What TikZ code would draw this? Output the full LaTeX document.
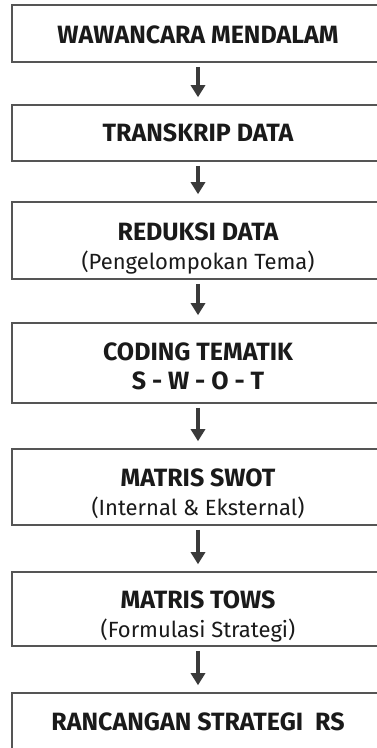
\documentclass[tikz,border=0pt]{standalone}
\usepackage{fontspec}
\setmainfont{Fira Sans}
\usetikzlibrary{arrows.meta}
\definecolor{frame}{HTML}{555555}
\definecolor{arrowgray}{HTML}{3A3A3A}
\definecolor{ink}{HTML}{1A1A1A}
\tikzset{
  stage/.style={draw=frame, line width=1.6pt, fill=white, minimum width=372pt,
    inner sep=0pt, align=center, text=ink,
    font=\fontsize{25}{29}\selectfont},
  flow/.style={draw=arrowgray, line width=3.8pt,
    -{Triangle[width=14pt,length=12pt]}, shorten <=4pt, shorten >=7pt}
}
% title and subtitle lines; the first argument lowers the line
% without changing the space it takes
\newcommand{\hd}[2]{\raisebox{-#1}[\height][\depth]{\bfseries #2}}
\newcommand{\sub}[2]{\raisebox{-#1}[\height][\depth]{\fontsize{22}{29}\selectfont #2}}
\begin{document}
\begin{tikzpicture}[x=1pt, y=-1pt]
  \useasboundingbox (0,0) rectangle (376,748);
  \fill[white] (0,0) rectangle (376,748);

  \node[stage, minimum height=57pt] (s1) at (198,33.5) {\hd{1pt}{WAWANCARA MENDALAM}};
  \node[stage, minimum height=56pt] (s2) at (198,133) {\hd{0pt}{TRANSKRIP DATA}};
  \node[stage, minimum height=77pt] (s3) at (198,240.5)
    {\hd{8pt}{REDUKSI DATA}\\\sub{8pt}{(Pengelompokan Tema)}};
  \node[stage, minimum height=80pt] (s4) at (198,363)
    {\hd{3pt}{CODING TEMATIK}\\\hd{3pt}{S - W - O - T}};
  \node[stage, minimum height=76pt] (s5) at (198,487)
    {\hd{7pt}{MATRIS SWOT}\\\sub{7pt}{(Internal \& Eksternal)}};
  \node[stage, minimum height=74pt] (s6) at (198,609)
    {\hd{7pt}{MATRIS TOWS}\\\sub{7pt}{(Formulasi Strategi)}};
  \node[stage, minimum height=58pt] (s7) at (198,722)
    {\hd{0pt}{RANCANGAN STRATEGI\ \ RS}};

  \foreach \a/\b in {s1/s2, s2/s3, s3/s4, s4/s5, s5/s6, s6/s7}
    \draw[flow] (\a) -- (\b);
\end{tikzpicture}
\end{document}
